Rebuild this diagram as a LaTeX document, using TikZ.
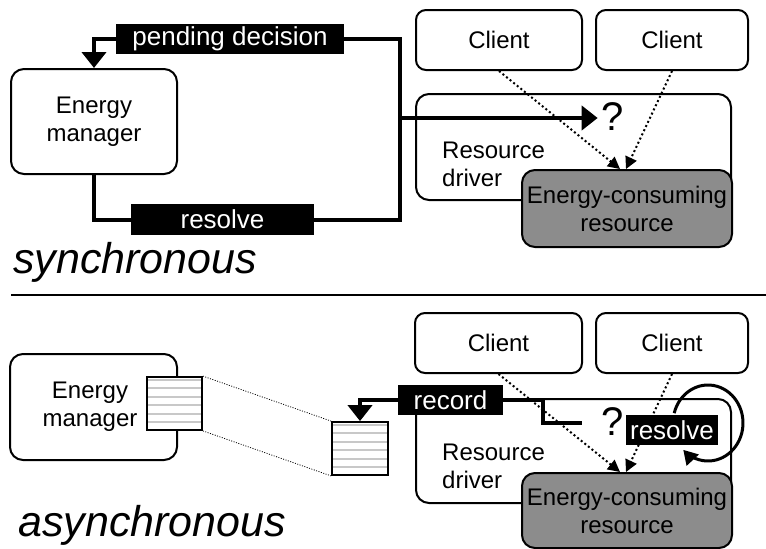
\documentclass[tikz,border=0pt]{standalone}
\usepackage{fontspec}
\setmainfont{Liberation Sans}
\usetikzlibrary{arrows.meta}
\definecolor{ecrgray}{RGB}{140,140,140}
\definecolor{stripecol}{RGB}{200,200,200}
\begin{document}
\begin{tikzpicture}[x=1pt,y=-1pt,
  box/.style={draw, line width=2pt, rounded corners=13pt, inner sep=0pt, align=center,
              font=\fontsize{24}{28}\selectfont},
  cbox/.style={box, rounded corners=10pt},
  txt/.style={inner sep=0pt, align=left, font=\fontsize{24}{28}\selectfont},
  lab/.style={fill=black, text=white, inner sep=0pt, font=\fontsize{26}{30}\selectfont},
  qm/.style={inner sep=1pt, font=\fontsize{40}{44}\selectfont},
  thickline/.style={line width=4pt},
  arr/.style={-{Triangle[length=16pt,width=24pt]}},
  dots/.style={line width=2pt, dash pattern=on 2pt off 2.6pt, -{Triangle[length=12pt,width=12pt]}},
  queue/.style={draw, line width=1.8pt, fill=white, inner sep=0pt,
     path picture={\foreach \k in {0,...,5} {
        \draw[stripecol, line width=2pt]
          ([yshift={-3pt-\k*8.4pt}]path picture bounding box.north west) --
          ([yshift={-3pt-\k*8.4pt}]path picture bounding box.north east);}}},
  title/.style={inner sep=0pt, anchor=base west, font=\fontsize{43}{46}\selectfont\itshape}
]
\useasboundingbox (0,0) rectangle (766,549);

% ---------------- synchronous ----------------
\node[box, minimum width=166pt, minimum height=105pt] (em1) at (94,121.5) {Energy\\manager};
\node[lab, minimum width=228pt, minimum height=30pt] (pd1) at (230,39) {pending decision};
\node[lab, minimum width=183pt, minimum height=31pt] (res1) at (222.5,219.5) {resolve};
\node[cbox, minimum width=166pt, minimum height=60pt] (cl1) at (499,40) {Client};
\node[cbox, minimum width=152pt, minimum height=60pt] (cl2) at (672,40) {Client};
\node[box, minimum width=315pt, minimum height=106pt] (rd1) at (573.5,147) {};
\node[txt, anchor=west] (rdt1) at (442,164) {Resource\\driver};
\node[box, fill=ecrgray, minimum width=210pt, minimum height=77pt] (ecr1) at (627,208.5) {Energy-consuming\\resource};
\node[qm] (q1) at (613,117) {?};

\coordinate (c1) at (400,39);
\coordinate (c2) at (400,118);
\draw[thickline, arr] (pd1.west) -| (em1.north);
\draw[thickline] (em1.south) |- (res1.west);
\draw[thickline] (res1.east) -| (c1) -- (pd1.east);
\draw[thickline, arr, shorten >=3pt] (c2) -- (q1.west |- c2);

\draw[dots] (cl1.south) -- ([xshift=-7pt]ecr1.north);
\draw[dots] (cl2.south) -- ([xshift=-1pt]ecr1.north);

\node[title] (t1) at (13,273) {synchronous};
\coordinate (sepL) at (11,295);
\coordinate (sepR) at (766,295);
\draw[line width=2.5pt] (sepL) -- (sepR);

% ---------------- asynchronous ----------------
\node[box, minimum width=167pt, minimum height=106pt] (em2) at (93.5,407) {};
\node[txt, align=center] (em2t) at (90,407) {Energy\\manager};
\node[queue, minimum width=55pt, minimum height=53pt] (qb1) at (174.5,403.5) {};
\node[queue, minimum width=56pt, minimum height=53pt] (qb2) at (360,448.5) {};
\draw[line width=0.8pt, dash pattern=on 1pt off 1.5pt] (qb1.north east) -- (qb2.north west);
\draw[line width=0.8pt, dash pattern=on 1pt off 1.5pt] (qb1.south east) -- (qb2.south west);

\node[cbox, minimum width=167pt, minimum height=60pt] (cl3) at (498.5,343) {Client};
\node[cbox, minimum width=152pt, minimum height=60pt] (cl4) at (672,343) {Client};
\node[box, minimum width=315pt, minimum height=104pt] (rd2) at (573.5,451) {};
\node[txt, anchor=west] (rdt2) at (442,466) {Resource\\driver};
\node[box, fill=ecrgray, minimum width=210pt, minimum height=75pt] (ecr2) at (627,510.5) {Energy-consuming\\resource};

\draw[dots] (cl3.south) -- ([xshift=-7pt]ecr2.north);
\draw[dots] (cl4.south) -- ([xshift=-1pt]ecr2.north);

\coordinate (s1) at (543,423);
\coordinate (s2) at (582,423);
\node[lab, minimum width=105pt, minimum height=30pt] (rec) at (450.5,400) {record};
\draw[thickline, arr] (rec.west) -| (qb2.north);
\draw[thickline] (rec.east) -| (s1) -- (s2);

\node[qm] (q2) at (613,422) {?};
\node[lab, minimum width=92pt, minimum height=30pt] (res2) at (672,430) {resolve};
\coordinate (lc) at (708,423);
\draw[line width=3pt, -{Triangle[length=14pt,width=16pt]}]
  ([shift={(-165:35 and 38)}]lc) arc[start angle=-165, end angle=135, x radius=35, y radius=38];

\node[title] (t2) at (18,536) {asynchronous};
\end{tikzpicture}
\end{document}
